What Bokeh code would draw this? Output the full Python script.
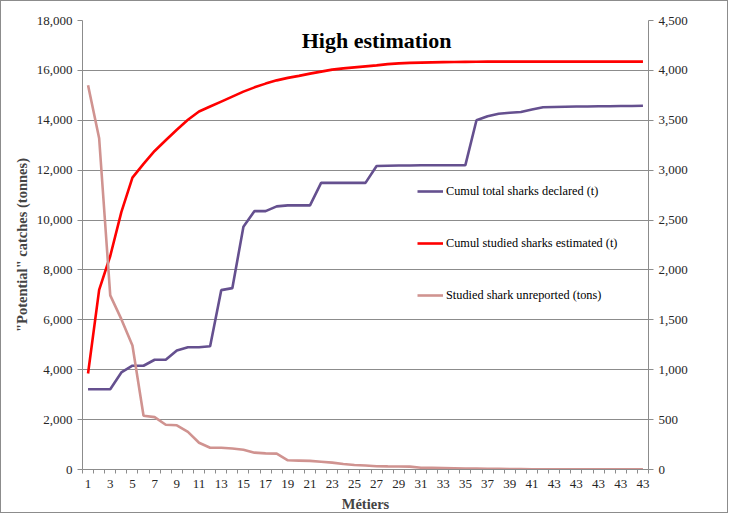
from bokeh.plotting import figure
from bokeh.models import Range1d, LinearAxis, FixedTicker, NumeralTickFormatter, Label, Legend, LegendItem
from bokeh.embed import file_html
from bokeh.resources import INLINE

# ---- data ----
metier_pos = list(range(1, 52))
metier_labels = ["1", "2", "3", "4", "5", "6", "7", "8", "9", "10",
                 "11", "12", "13", "14", "15", "16", "17", "18", "19", "20",
                 "21", "22", "23", "24", "25", "26", "27", "28", "29", "30",
                 "31", "32", "33", "34", "35", "36", "37", "38", "39", "40",
                 "41", "42", "43", "43", "43", "43", "43", "43", "43", "43", "43"]

cumul_declared = [3220, 3220, 3220, 3890, 4160, 4160, 4400, 4400, 4770, 4900,
                  4900, 4940, 7190, 7270, 9730, 10360, 10360, 10550, 10590, 10590,
                  10590, 11490, 11490, 11490, 11490, 11490, 12170, 12180, 12190, 12190,
                  12200, 12200, 12200, 12200, 12200, 14000, 14160, 14260, 14300, 14330,
                  14430, 14520, 14530, 14540, 14550, 14550, 14560, 14560, 14570, 14570, 14580]

cumul_estimated = [3850, 7200, 8560, 10320, 11700, 12250, 12770, 13200, 13620, 14020,
                   14350, 14550, 14750, 14950, 15150, 15320, 15470, 15600, 15700, 15780,
                   15870, 15950, 16030, 16080, 16120, 16160, 16200, 16250, 16280, 16300,
                   16310, 16320, 16330, 16335, 16340, 16345, 16350, 16350, 16350, 16350,
                   16350, 16350, 16350, 16350, 16350, 16350, 16350, 16350, 16350, 16350, 16350]

unreported = [3850, 3320, 1745, 1507, 1242, 538, 525, 449, 443, 377,
              268, 218, 218, 211, 198, 169, 162, 159, 92, 89,
              86, 78, 69, 55, 45, 40, 33, 31, 30, 29,
              18, 16, 14, 12, 10, 9, 7, 6, 5, 4,
              3, 2, 1, 1, 1, 1, 1, 1, 1, 1, 1]

left_ticks = [0, 2000, 4000, 6000, 8000, 10000, 12000, 14000, 16000, 18000]
right_ticks = [0, 500, 1000, 1500, 2000, 2500, 3000, 3500, 4000, 4500]

PURPLE = "#65508F"
RED = "#FF0000"
PINK = "#D09390"
GRID = "#8C8C8C"
SERIF = "Liberation Serif"
TXT = "#262626"

p = figure(width=728, height=513, output_backend="svg", toolbar_location=None,
           x_range=Range1d(0.5, 51.5), y_range=Range1d(0, 18000),
           min_border_left=81, min_border_right=81, min_border_top=19, min_border_bottom=40,
           background_fill_color="white", border_fill_color="white", outline_line_color=None)
p.styles = {"border": "1px solid #8C8C8C"}

p.extra_y_ranges = {"right": Range1d(0, 4500)}

r1 = p.line(metier_pos, cumul_declared, line_color=PURPLE, line_width=2.6)
r2 = p.line(metier_pos, cumul_estimated, line_color=RED, line_width=2.6)
r3 = p.line(metier_pos, unreported, line_color=PINK, line_width=2.6, y_range_name="right")

# x axis
xa = p.xaxis[0]
major = metier_pos[0::2]
xa.ticker = FixedTicker(ticks=major, minor_ticks=[v - 0.5 for v in metier_pos] + [metier_pos[-1] + 0.5])
xa.major_label_overrides = {v: metier_labels[v - 1] for v in major}
xa.major_tick_out = 0
xa.major_tick_in = 0
xa.minor_tick_out = 4
xa.minor_tick_in = 0
xa.minor_tick_line_color = GRID
xa.axis_line_color = GRID
xa.major_label_standoff = 6
xa.axis_label = "Métiers"
xa.axis_label_text_font = SERIF
xa.axis_label_text_font_style = "bold"
xa.axis_label_text_font_size = "14.5px"
xa.axis_label_standoff = 5
xa.major_label_text_font = SERIF
xa.major_label_text_font_size = "13px"
xa.major_label_text_color = TXT

# left axis
ya = p.yaxis[0]
ya.ticker = FixedTicker(ticks=left_ticks)
ya.formatter = NumeralTickFormatter(format="0,0")
ya.axis_line_color = GRID
ya.major_tick_line_color = GRID
ya.major_tick_out = 5
ya.major_tick_in = 0
ya.minor_tick_line_color = None
ya.major_label_text_font = SERIF
ya.major_label_text_font_size = "13px"
ya.major_label_text_color = TXT
ya.major_label_standoff = 5
ya.axis_label = "\"Potential\" catches (tonnes)"
ya.axis_label_text_font = SERIF
ya.axis_label_text_font_style = "bold"
ya.axis_label_text_font_size = "14.5px"
ya.axis_label_standoff = 4

# right axis
ra = LinearAxis(y_range_name="right", ticker=FixedTicker(ticks=right_ticks),
                formatter=NumeralTickFormatter(format="0,0"))
ra.axis_line_color = GRID
ra.major_tick_line_color = GRID
ra.major_tick_out = 5
ra.major_tick_in = 0
ra.minor_tick_line_color = None
ra.major_label_text_font = SERIF
ra.major_label_text_font_size = "13px"
ra.major_label_text_color = TXT
ra.major_label_standoff = 5
p.add_layout(ra, "right")

p.xgrid.grid_line_color = None
p.ygrid.grid_line_color = GRID
p.ygrid.grid_line_width = 1
p.ygrid.ticker = FixedTicker(ticks=left_ticks)

# title inside plot
p.add_layout(Label(x=27, y=17200, text="High estimation", text_font=SERIF,
                   text_font_style="bold", text_font_size="22px", text_align="center",
                   text_baseline="middle", text_color="black"))

legend = Legend(items=[LegendItem(label="Cumul total sharks declared (t)", renderers=[r1]),
                       LegendItem(label="Cumul studied sharks estimated (t)", renderers=[r2]),
                       LegendItem(label="Studied shark unreported (tons)", renderers=[r3])],
                location=(335, 166), orientation="vertical",
                background_fill_alpha=0, border_line_color=None,
                padding=0, margin=0, spacing=36, glyph_width=26, glyph_height=16,
                label_height=16, label_standoff=3,
                label_text_font=SERIF, label_text_font_size="12.3px", label_text_color="black")
p.add_layout(legend, "center")

open("out.html", "w").write(file_html(p, INLINE))
